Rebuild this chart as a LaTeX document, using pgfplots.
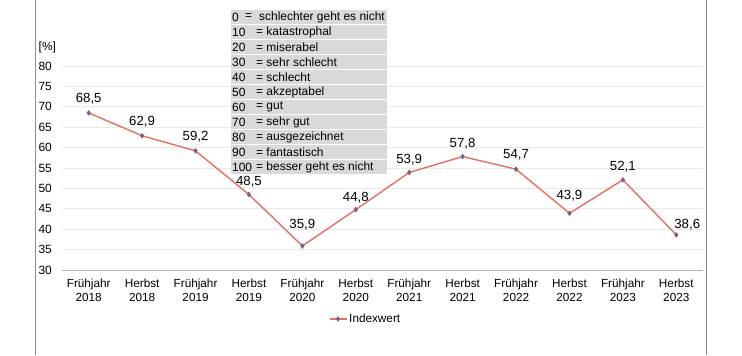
\documentclass[border=0pt]{standalone}
\usepackage{pgfplots}
\usepackage{pgfplotstable}
\pgfplotsset{compat=1.18}
\usepackage{fontspec}
\setmainfont{Liberation Sans}
\definecolor{linec}{RGB}{230,112,96}
\definecolor{markc}{RGB}{128,96,128}
\definecolor{gridc}{RGB}{234,234,234}
\definecolor{tabc}{RGB}{217,217,217}
\definecolor{borderc}{RGB}{140,140,140}
\pgfplotstableread{
x y dy dx
0 68.5 14 0
1 62.9 14 0
2 59.2 14 0
3 48.5 13 0
4 35.9 21 0
5 44.8 12 0
6 53.9 13 0
7 57.8 13 0
8 54.7 14 0
9 43.9 18 0
10 52.1 13 0
11 38.6 10 11
}\data
\begin{document}
\begin{tikzpicture}[x=1bp,y=1bp]
\useasboundingbox (0,0) rectangle (742,355);
\fill[white] (0,0) rectangle (742,355);
\draw[borderc, line width=1.2bp] (35.5,0) -- (35.5,355);
\draw[borderc, line width=1.2bp] (706.5,0) -- (706.5,355);
\node[anchor=west, inner sep=0pt, font=\fontsize{12}{14}\selectfont] at (38.5,308) {[\%]};
\begin{axis}[
  at={(62bp,85bp)}, anchor=south west, scale only axis,
  width=641bp, height=204bp,
  xmin=-0.5, xmax=11.5, ymin=30, ymax=80,
  ytick={30,35,...,80},
  xtick={0,...,11},
  xticklabels={{Frühjahr\\2018},{Herbst\\2018},{Frühjahr\\2019},{Herbst\\2019},{Frühjahr\\2020},{Herbst\\2020},{Frühjahr\\2021},{Herbst\\2021},{Frühjahr\\2022},{Herbst\\2022},{Frühjahr\\2023},{Herbst\\2023}},
  axis lines=left,
  axis line style={-},
  y axis line style={draw=none},
  x axis line style={draw=gray!60, line width=1bp},
  major tick length=0pt,
  ymajorgrids, grid style={gridc, line width=1bp},
  /pgf/number format/assume math mode=true,
  yticklabel style={font=\fontsize{12}{14}\selectfont, inner sep=0pt, xshift=-10bp},
  xticklabel style={font=\fontsize{11.8}{13.5}\selectfont, align=center, inner sep=0pt, yshift=-9bp},
  clip=false,
  legend style={at={(0.4735,-0.24)}, anchor=center, draw=none, fill=none, font=\fontsize{11.8}{14}\selectfont},
]
\addplot[color=linec, line width=1.4bp, mark=diamond*, mark size=2.4bp, mark options={fill=markc, draw=markc, line width=0.5bp},
  nodes near coords={\pgfmathprintnumber[use comma, fixed, fixed zerofill, precision=1, assume math mode=true]{\pgfplotspointmeta}},
  visualization depends on={\thisrow{dy} \as \dy},
  visualization depends on={\thisrow{dx} \as \dx},
  every node near coord/.append style={anchor=center, xshift=\dx, yshift=\dy, font=\fontsize{13.3}{15}\selectfont, text=black, inner sep=0pt},
] table[x=x,y=y]{\data};
\addlegendentry{Indexwert}
\end{axis}
% table
\foreach \i/\n/\t in {1/10/katastrophal,2/20/miserabel,3/30/sehr schlecht,4/40/schlecht,5/50/akzeptabel,6/60/gut,7/70/sehr gut,8/80/ausgezeichnet,9/90/fantastisch,10/100/besser geht es nicht}{
  \fill[tabc] (231,355-10-15*\i) rectangle (387,355-24-15*\i);
  \node[anchor=west, inner sep=0pt, font=\fontsize{12}{14}\selectfont] at (232,355-17-15*\i) {\n};
  \node[anchor=west, inner sep=0pt, font=\fontsize{12}{14}\selectfont] at (256,355-17-15*\i) {= \t};
}
\fill[tabc] (231,345) rectangle (387,331);
\node[anchor=west, inner sep=0pt, font=\fontsize{12}{14}\selectfont] at (232,338) {0};
\node[anchor=west, inner sep=0pt, font=\fontsize{12}{14}\selectfont] at (245,338) {=};
\node[anchor=west, inner sep=0pt, font=\fontsize{12}{14}\selectfont] at (259,338) {schlechter geht es nicht};
\end{tikzpicture}
\end{document}
